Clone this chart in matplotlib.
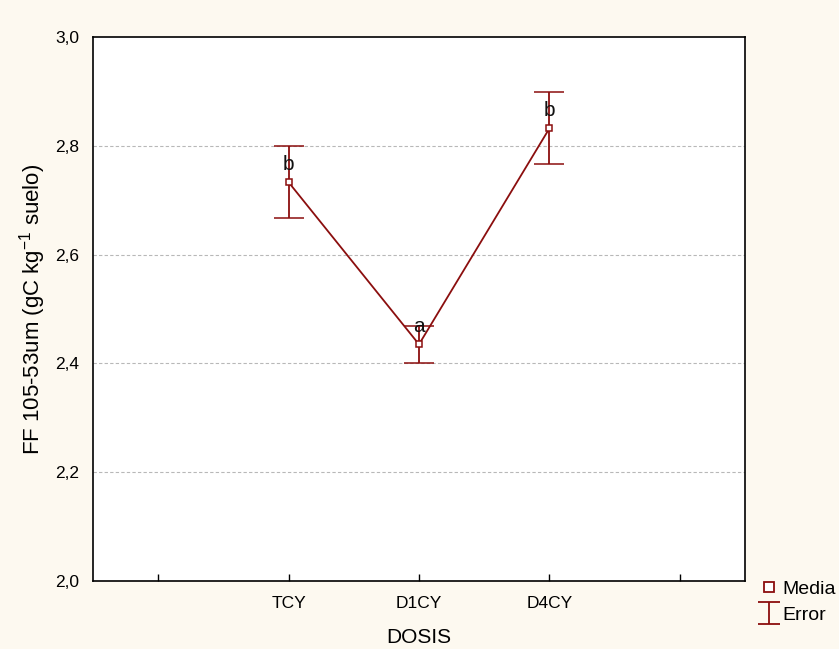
import matplotlib
matplotlib.use("Agg")
import matplotlib.pyplot as plt
from matplotlib.lines import Line2D
from matplotlib.path import Path
import numpy as np

plt.rcParams['font.family'] = ['Liberation Sans', 'DejaVu Sans']
plt.rcParams['mathtext.default'] = 'regular'

# data
dosis = ['TCY', 'D1CY', 'D4CY']
media = [2.733, 2.435, 2.832]
error = [0.066, 0.034, 0.066]
letras = ['b', 'a', 'b']
yticks = [2.0, 2.2, 2.4, 2.6, 2.8, 3.0]

red = '#8b0e0e'
bg = '#fdf9f0'

fig = plt.figure(figsize=(8.39, 6.49), dpi=100, facecolor=bg)
ax = fig.add_axes([0.1108, 0.1048, 0.7772, 0.8382])
ax.set_facecolor('white')

x = np.arange(len(dosis)) + 2
ax.errorbar(x, media, yerr=error, color=red, lw=1.3, capsize=11, capthick=1.3,
            marker='s', ms=5, mfc='white', mec=red, mew=1.1, zorder=3)
for xi, m, l in zip(x, media, letras):
    ax.text(xi, m + 0.016, l, ha='center', va='bottom', fontsize=15, color='#111111', zorder=4)

ax.set_xlim(0.5, 5.5)
ax.set_ylim(2.0, 3.0)
ax.set_xticks([1, 2, 3, 4, 5])
ax.set_xticklabels([''] + dosis + [''], fontsize=12.5)
ax.set_yticks(yticks)
ax.set_yticklabels([('%.1f' % t).replace('.', ',') for t in yticks], fontsize=12.5)
ax.tick_params(direction='in', length=5, width=1, pad=11)
ax.tick_params(axis='y', pad=10, length=0)
for t in yticks[1:-1]:
    ax.axhline(t, color='#b8b8b8', lw=0.8, ls=(0, (3, 2)), zorder=1)
for s in ax.spines.values():
    s.set_linewidth(1.2)

ax.set_xlabel('DOSIS', fontsize=15, labelpad=12)
ax.set_ylabel('FF 105-53um (gC kg$^{-1}$ suelo)', fontsize=16, labelpad=5)

# I-beam marker for the error legend entry
ibeam = Path([(-1, 1), (1, 1), (0, 1), (0, -1), (-1, -1), (1, -1)],
             [Path.MOVETO, Path.LINETO, Path.MOVETO, Path.LINETO, Path.MOVETO, Path.LINETO])
handles = [Line2D([], [], ls='none', marker='s', ms=7, mfc='white', mec=red, mew=1.3),
           Line2D([], [], ls='none', marker=ibeam, ms=16, mfc='none', mec=red, mew=1.3)]
fig.legend(handles, ['Media', 'Error'], loc='upper left', bbox_to_anchor=(0.898, 0.118),
           frameon=False, fontsize=14, handlelength=0.8, handletextpad=0.3, labelspacing=0.45,
           borderaxespad=0)

fig.savefig('out.png', dpi=100, facecolor=bg)
